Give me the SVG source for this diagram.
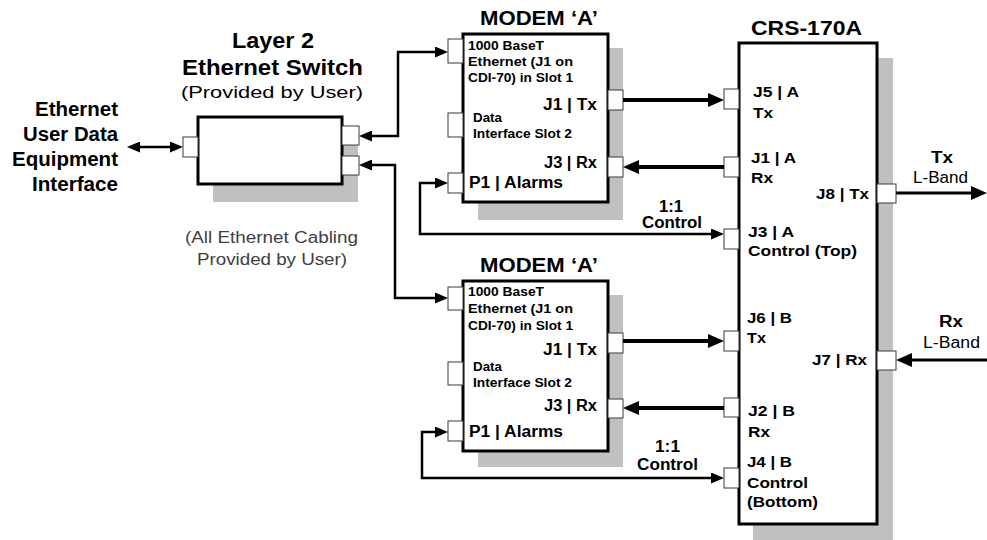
<svg xmlns="http://www.w3.org/2000/svg" width="987" height="540" viewBox="0 0 987 540">
<defs>
<style>
text{font-family:"Liberation Sans",Arial,sans-serif;fill:#000}
.b{font-weight:bold}
.t20{font-size:20px}
.t22{font-size:22px}
.t21{font-size:21px}
.t16{font-size:16px}
.t15{font-size:15px}
.t12{font-size:12px}
.t17{font-size:17px}
.gray{fill:#404040}
.shadow{fill:#c0c0c0;stroke:none}
.box{fill:#fff;stroke:#000;stroke-width:3}
.port{fill:#fff;stroke:#3a3a3a;stroke-width:1}
.thin{fill:none;stroke:#000;stroke-width:2.5}
.thick{fill:none;stroke:#000;stroke-width:4}
.mid{fill:none;stroke:#000;stroke-width:3}
</style>
<marker id="ah" viewBox="0 0 13 11" markerWidth="13" markerHeight="11" refX="0.5" refY="5.5" orient="auto-start-reverse" markerUnits="userSpaceOnUse"><path d="M0,0 L13,5.5 L0,11 z" fill="#000"/></marker>
<marker id="ahb" viewBox="0 0 16 14" markerWidth="16" markerHeight="14" refX="0.5" refY="7" orient="auto-start-reverse" markerUnits="userSpaceOnUse"><path d="M0,0 L16,7 L0,14 z" fill="#000"/></marker>
</defs>
<rect width="987" height="540" fill="#fff"/>

<g id="user-equipment">
<text class="b t20" x="35" y="116" textLength="83" lengthAdjust="spacingAndGlyphs">Ethernet</text>
<text class="b t20" x="23" y="141" textLength="95" lengthAdjust="spacingAndGlyphs">User Data</text>
<text class="b t20" x="12" y="166" textLength="106" lengthAdjust="spacingAndGlyphs">Equipment</text>
<text class="b t20" x="32" y="191" textLength="86" lengthAdjust="spacingAndGlyphs">Interface</text>
</g>

<g id="switch">
<rect class="shadow" x="213" y="132" width="145" height="70"/>
<rect class="box" x="198" y="117" width="144" height="67"/>
<rect class="port" x="183" y="137" width="15" height="20"/>
<rect class="port" x="342" y="126" width="17" height="19"/>
<rect class="port" x="342" y="156" width="17" height="19"/>
<text class="b t22" x="232" y="48" textLength="82" lengthAdjust="spacingAndGlyphs">Layer 2</text>
<text class="b t22" x="182" y="75" textLength="181" lengthAdjust="spacingAndGlyphs">Ethernet Switch</text>
<text class="t17" x="181" y="98" textLength="182" lengthAdjust="spacingAndGlyphs" fill="#111">(Provided by User)</text>
</g>

<g id="cabling-note">
<text class="t16 gray" x="185" y="243" textLength="173" lengthAdjust="spacingAndGlyphs">(All Ethernet Cabling</text>
<text class="t16 gray" x="197" y="265" textLength="150" lengthAdjust="spacingAndGlyphs">Provided by User)</text>
</g>

<g id="modemA">
<rect class="shadow" x="478" y="48" width="145" height="172"/>
<rect class="box" x="463" y="34" width="145" height="168"/>
<rect class="port" x="448" y="39" width="15" height="24"/>
<rect class="port" x="448" y="113" width="15" height="24"/>
<rect class="port" x="448" y="173" width="15" height="20"/>
<rect class="port" x="608" y="90" width="15" height="20"/>
<rect class="port" x="608" y="157" width="15" height="20"/>
<text class="b t21" x="480" y="25" textLength="118" lengthAdjust="spacingAndGlyphs">MODEM ‘A’</text>
<text class="b t12" x="468" y="50" textLength="76" lengthAdjust="spacingAndGlyphs">1000 BaseT</text>
<text class="b t12" x="468" y="66" textLength="105" lengthAdjust="spacingAndGlyphs">Ethernet (J1 on</text>
<text class="b t12" x="468" y="82" textLength="105" lengthAdjust="spacingAndGlyphs">CDI-70) in Slot 1</text>
<text class="b t16" x="543" y="110" textLength="54" lengthAdjust="spacingAndGlyphs">J1 | Tx</text>
<text class="b t12" x="473" y="122" textLength="29" lengthAdjust="spacingAndGlyphs">Data</text>
<text class="b t12" x="473" y="138" textLength="99" lengthAdjust="spacingAndGlyphs">Interface Slot 2</text>
<text class="b t16" x="544" y="168" textLength="53" lengthAdjust="spacingAndGlyphs">J3 | Rx</text>
<text class="b t16" x="469" y="188" textLength="94" lengthAdjust="spacingAndGlyphs">P1 | Alarms</text>
</g>

<g id="modemB">
<rect class="shadow" x="478" y="295" width="145" height="172"/>
<rect class="box" x="463" y="281" width="145" height="170"/>
<rect class="port" x="448" y="287" width="15" height="23"/>
<rect class="port" x="448" y="362" width="15" height="23"/>
<rect class="port" x="448" y="421" width="15" height="20"/>
<rect class="port" x="608" y="333" width="15" height="20"/>
<rect class="port" x="608" y="399" width="15" height="19"/>
<text class="b t21" x="480" y="272" textLength="118" lengthAdjust="spacingAndGlyphs">MODEM ‘A’</text>
<text class="b t12" x="468" y="296" textLength="76" lengthAdjust="spacingAndGlyphs">1000 BaseT</text>
<text class="b t12" x="468" y="313" textLength="105" lengthAdjust="spacingAndGlyphs">Ethernet (J1 on</text>
<text class="b t12" x="468" y="330" textLength="105" lengthAdjust="spacingAndGlyphs">CDI-70) in Slot 1</text>
<text class="b t16" x="543" y="355" textLength="54" lengthAdjust="spacingAndGlyphs">J1 | Tx</text>
<text class="b t12" x="473" y="371" textLength="29" lengthAdjust="spacingAndGlyphs">Data</text>
<text class="b t12" x="473" y="387" textLength="99" lengthAdjust="spacingAndGlyphs">Interface Slot 2</text>
<text class="b t16" x="544" y="411" textLength="53" lengthAdjust="spacingAndGlyphs">J3 | Rx</text>
<text class="b t16" x="469" y="437" textLength="94" lengthAdjust="spacingAndGlyphs">P1 | Alarms</text>
</g>

<g id="crs170a">
<rect class="shadow" x="753" y="58" width="140" height="482"/>
<rect class="box" x="739" y="43" width="138" height="481"/>
<rect class="port" x="724" y="89" width="15" height="20"/>
<rect class="port" x="724" y="157" width="15" height="20"/>
<rect class="port" x="724" y="229" width="15" height="20"/>
<rect class="port" x="724" y="331" width="15" height="20"/>
<rect class="port" x="724" y="398" width="15" height="19"/>
<rect class="port" x="724" y="468" width="15" height="20"/>
<rect class="port" x="877" y="184" width="19" height="19"/>
<rect class="port" x="877" y="351" width="19" height="19"/>
<text class="b t21" x="751" y="35" textLength="111" lengthAdjust="spacingAndGlyphs">CRS-170A</text>
<text class="b t15" x="753" y="97" textLength="46" lengthAdjust="spacingAndGlyphs">J5 | A</text>
<text class="b t15" x="753" y="118" textLength="20" lengthAdjust="spacingAndGlyphs">Tx</text>
<text class="b t15" x="751" y="163" textLength="45" lengthAdjust="spacingAndGlyphs">J1 | A</text>
<text class="b t15" x="751" y="183" textLength="22" lengthAdjust="spacingAndGlyphs">Rx</text>
<text class="b t15" x="748" y="237" textLength="46" lengthAdjust="spacingAndGlyphs">J3 | A</text>
<text class="b t15" x="748" y="256" textLength="109" lengthAdjust="spacingAndGlyphs">Control (Top)</text>
<text class="b t15" x="816" y="199" textLength="53" lengthAdjust="spacingAndGlyphs">J8 | Tx</text>
<text class="b t15" x="747" y="323" textLength="45" lengthAdjust="spacingAndGlyphs">J6 | B</text>
<text class="b t15" x="747" y="343" textLength="19" lengthAdjust="spacingAndGlyphs">Tx</text>
<text class="b t15" x="812" y="365" textLength="55" lengthAdjust="spacingAndGlyphs">J7 | Rx</text>
<text class="b t15" x="748" y="416" textLength="47" lengthAdjust="spacingAndGlyphs">J2 | B</text>
<text class="b t15" x="748" y="437" textLength="22" lengthAdjust="spacingAndGlyphs">Rx</text>
<text class="b t15" x="747" y="467" textLength="45" lengthAdjust="spacingAndGlyphs">J4 | B</text>
<text class="b t15" x="747" y="488" textLength="61" lengthAdjust="spacingAndGlyphs">Control</text>
<text class="b t15" x="747" y="507" textLength="71" lengthAdjust="spacingAndGlyphs">(Bottom)</text>
</g>

<g id="connectors">
<path class="thin" d="M139.5,147 H170.5" marker-start="url(#ah)" marker-end="url(#ah)"/>
<path class="thin" d="M371.5,136 H398 V52 H435.5" marker-start="url(#ah)" marker-end="url(#ah)"/>
<path class="thin" d="M371.5,165 H395 V298 H435.5" marker-start="url(#ah)" marker-end="url(#ah)"/>
<path class="thin" d="M435.5,183 H420 V234 H711.5" marker-start="url(#ah)" marker-end="url(#ah)"/>
<path class="thin" d="M435.5,432 H422 V478 H711.5" marker-start="url(#ah)" marker-end="url(#ah)"/>
<path class="thick" d="M623,100 H708.5" marker-end="url(#ahb)"/>
<path class="thick" d="M724,167 H638.5" marker-end="url(#ahb)"/>
<path class="thick" d="M623,341 H708.5" marker-end="url(#ahb)"/>
<path class="thick" d="M724,408 H638.5" marker-end="url(#ahb)"/>
<path class="mid" d="M896,193 H971.5" marker-end="url(#ahb)"/>
<path class="mid" d="M987,360 H911.5" marker-end="url(#ahb)"/>
</g>

<g id="connector-labels">
<text class="b t16" x="659" y="212" textLength="24" lengthAdjust="spacingAndGlyphs">1:1</text>
<text class="b t16" x="642" y="228" textLength="60" lengthAdjust="spacingAndGlyphs">Control</text>
<text class="b t16" x="655" y="452" textLength="25" lengthAdjust="spacingAndGlyphs">1:1</text>
<text class="b t16" x="637" y="470" textLength="61" lengthAdjust="spacingAndGlyphs">Control</text>
<text class="b t16" x="931" y="163" textLength="22" lengthAdjust="spacingAndGlyphs">Tx</text>
<text class="t16" x="913" y="183" textLength="55" lengthAdjust="spacingAndGlyphs" fill="#222">L-Band</text>
<text class="b t16" x="939" y="327" textLength="24" lengthAdjust="spacingAndGlyphs">Rx</text>
<text class="t16" x="923" y="348" textLength="57" lengthAdjust="spacingAndGlyphs" fill="#222">L-Band</text>
</g>
</svg>
